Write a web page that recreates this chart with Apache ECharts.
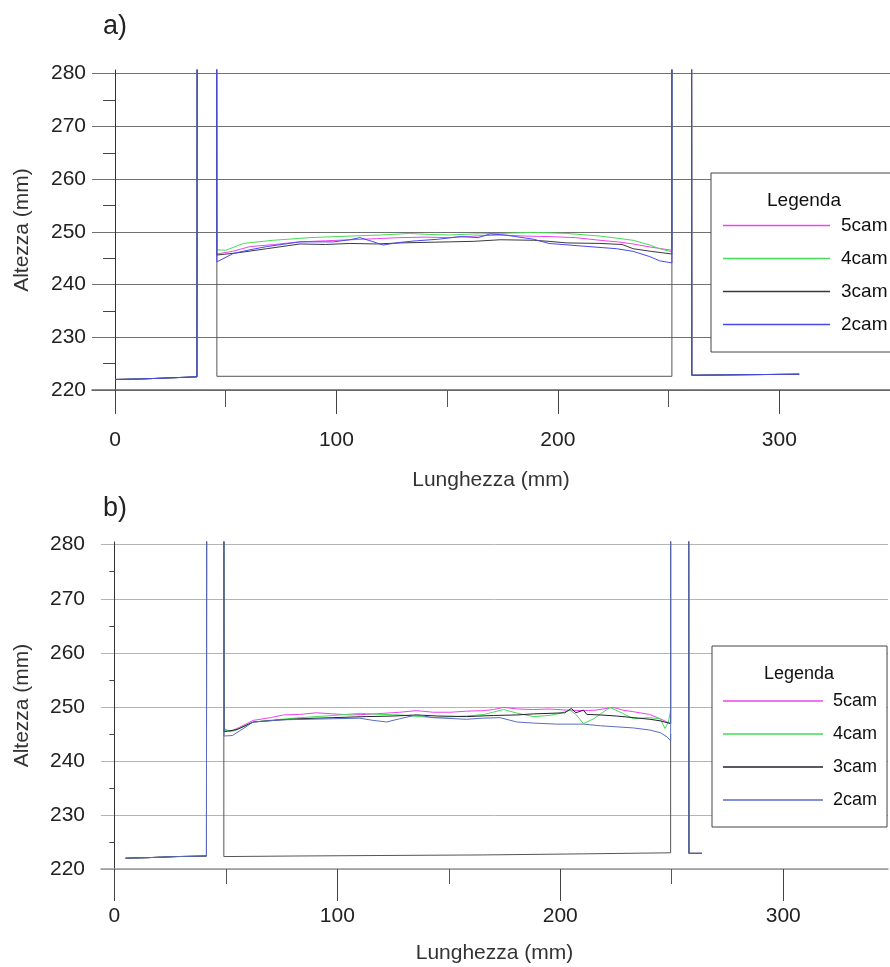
<!DOCTYPE html>
<html>
<head>
<meta charset="utf-8">
<script src="https://cdn.jsdelivr.net/npm/echarts@6/dist/echarts.min.js"></script>
<style>
  html, body { margin: 0; padding: 0; background: #ffffff; }
  #chart { width: 890px; height: 967px; }
</style>
</head>
<body>
<div id="chart"></div>
<script>
// Profile heights (mm) along the piece length (mm), two acquisitions a) and b)
const seriesNames = ['5cam', '4cam', '3cam', '2cam'];
const xTickValues = [0, 100, 200, 300];
const xMinorTickValues = [50, 150, 250];
const SPIKE_TOP = 300; // edge spikes leave the plotted range

// ---- panel a) ----
const leftA = [[0, 222.0], [12, 222.1], [25, 222.3], [37, 222.5], [37.1, SPIKE_TOP], [45.9, SPIKE_TOP]];
const rightA = [[251.5, SPIKE_TOP], [260.4, SPIKE_TOP], [260.5, 222.8], [285, 222.9], [309, 223.0]];
const baseA = [[46, 246], [46, 222.6], [251.5, 222.6], [251.5, 246]];

const cam5A = [[46, 245.8], [53, 246.3], [61, 247.2], [72, 247.6], [83.5, 248.1], [95, 248.3], [106, 248.5],
  [118, 248.7], [128.7, 248.9], [140, 249.0], [151, 248.9], [162, 249.2], [174, 249.4], [185, 249.2],
  [196, 249.1], [208, 248.9], [219, 248.4], [227, 248.1], [234, 247.7], [242, 247.1], [251.5, 246.5]];
const cam4A = [[46, 246.6], [50, 246.5], [58, 247.8], [71.5, 248.4], [88, 248.9], [106, 249.2], [120, 249.4],
  [133, 249.7], [142, 249.5], [151, 249.4], [162, 249.6], [174, 249.7], [189, 249.9], [204, 249.7],
  [219, 249.2], [234, 248.4], [241.5, 247.5], [246, 246.8], [251.5, 246.2]];
const cam3A = [[46, 245.6], [55, 246.0], [68.5, 246.8], [83.5, 247.7], [95, 247.6], [106, 247.8], [118, 247.7],
  [129, 247.9], [140, 248.0], [151, 248.1], [162, 248.2], [174, 248.5], [189, 248.4], [196, 248.2],
  [204, 247.9], [219, 247.8], [229, 247.6], [234, 246.8], [242, 246.3], [251.5, 245.8]];
const cam2A = [[46, 244.3], [53.4, 245.9], [61, 246.6], [68.5, 247.2], [83.5, 248.1], [98.6, 248.1], [106, 248.5],
  [110.6, 248.9], [116, 248.2], [121, 247.5], [128.7, 248.0], [136, 248.3], [146, 248.6], [156, 249.1],
  [164, 248.9], [169.3, 249.6], [176, 249.4], [181, 249.1], [189, 248.6], [196, 247.8], [211, 247.3],
  [226.5, 246.8], [234, 246.3], [241.5, 245.3], [246, 244.5], [251.5, 244.1]];

// ---- panel b) ----
const leftB = [[5, 222.0], [15, 222.1], [28, 222.3], [41.3, 222.4], [41.4, SPIKE_TOP], [49.1, SPIKE_TOP]];
const rightB = [[249.5, SPIKE_TOP], [257.6, SPIKE_TOP], [257.7, 222.9], [263.5, 222.9]];
const baseB = [[49.1, 246], [49.1, 222.3], [80, 222.4], [120, 222.5], [165, 222.6], [210, 222.8], [249.5, 223.0], [249.5, 245]];

const cam5B = [[49.2, 246.0], [51.9, 245.4], [56, 246.2], [62.3, 247.5], [70, 248.0], [75.8, 248.5], [83, 248.6],
  [90.7, 248.9], [98, 248.7], [105.7, 248.5], [113, 248.6], [120.6, 248.8], [128, 249.0], [135.6, 249.3],
  [143, 249.0], [150.6, 249.0], [158, 249.2], [165.5, 249.3], [170, 249.5], [174.5, 249.9], [181, 249.6],
  [188, 249.5], [195, 249.6], [203, 249.4], [210, 249.3], [216, 249.4], [223.8, 249.9], [228, 249.4],
  [232.8, 249.1], [240, 248.6], [244.8, 247.8], [249.5, 246.9]];
const cam4B = [[49.2, 245.7], [53.4, 245.5], [62.3, 247.2], [72, 247.6], [83.3, 248.0], [98, 248.4], [110.2, 248.8],
  [120, 248.6], [128, 248.5], [143.1, 248.0], [158, 248.3], [166, 248.6], [174.5, 249.5], [181, 248.8],
  [188, 248.2], [195, 248.4], [200, 248.8], [204.4, 249.4], [207, 248.6], [210.4, 246.9], [215, 247.8],
  [222.3, 249.9], [228, 248.8], [232.8, 247.8], [240, 248.0], [244.8, 247.8], [247, 246.0], [248.5, 247.2],
  [249.5, 249.4]];
const cam3B = [[49.2, 245.4], [55, 245.8], [62.3, 247.2], [75, 247.6], [83.3, 247.8], [98, 248.0], [113.2, 248.2],
  [125, 248.3], [135.6, 248.5], [145, 248.3], [158, 248.2], [170, 248.4], [180.5, 248.5], [188, 248.7],
  [195.4, 248.8], [202, 248.9], [205, 249.7], [207, 248.9], [210.4, 249.4], [211.9, 248.6], [218, 248.5],
  [225.3, 248.3], [233, 248.0], [240.3, 247.7], [245, 247.4], [249.5, 246.9]];
const cam2B = [[49.2, 244.6], [53, 244.7], [62.3, 247.2], [75, 247.6], [98.2, 247.8], [110, 247.9], [116, 247.5],
  [122.1, 247.2], [128, 247.8], [135.6, 248.5], [143, 248.0], [158, 247.7], [165, 247.9], [173, 248.0],
  [180.5, 247.2], [188, 247.0], [198.4, 246.8], [210.4, 246.8], [218, 246.5], [225.3, 246.3], [232.8, 246.1],
  [240.3, 245.7], [245, 245.2], [248, 244.4], [249.5, 243.7]];

const profilesA = [cam5A, cam4A, cam3A, cam2A];
const profilesB = [cam5B, cam4B, cam3B, cam2B];
const colorsA = ['#ee44ee', '#44dd55', '#3a3a3a', '#4848ee'];
const colorsB = ['#ee44ee', '#44dd55', '#20222e', '#5a6cc0'];

const FONT = '"Liberation Sans", Arial, sans-serif';

function yAxisFor(gridIndex, max, gridColor, minorLen, labelMargin, nameGap) {
  return {
    gridIndex: gridIndex, type: 'value', min: 220, max: max, interval: 10,
    axisLine: { show: true, onZero: true, lineStyle: { color: '#333', width: 1 } },
    axisTick: { show: false },
    minorTick: { show: true, splitNumber: 2, length: minorLen, lineStyle: { color: '#444', width: 1 } },
    minorSplitLine: { show: false },
    axisLabel: { margin: labelMargin, fontSize: 21, color: '#222', fontFamily: FONT, showMaxLabel: false },
    splitLine: { show: true, showMaxLine: false, lineStyle: { color: gridColor, width: 1 } },
    name: 'Altezza (mm)', nameLocation: 'middle', nameRotate: 90, nameGap: nameGap,
    nameMoveOverlap: false,
    nameTextStyle: { fontSize: 21, color: '#333', fontFamily: FONT }
  };
}

function xAxesFor(gridIndex, min, max, lineColor, majorLen, minorLen, labelMargin, nameGap) {
  return [
    {
      gridIndex: gridIndex, type: 'value', min: min, max: max, position: 'bottom',
      axisLine: { show: true, onZero: false, lineStyle: { color: lineColor, width: 1.5 } },
      axisTick: { show: true, customValues: xTickValues, length: majorLen, lineStyle: { color: '#444' } },
      axisLabel: { customValues: xTickValues, margin: labelMargin, fontSize: 21, color: '#222', fontFamily: FONT },
      splitLine: { show: false },
      name: 'Lunghezza (mm)', nameLocation: 'middle', nameGap: nameGap, nameMoveOverlap: false,
      nameTextStyle: { fontSize: 21, color: '#333', fontFamily: FONT }
    },
    {
      gridIndex: gridIndex, type: 'value', min: min, max: max, position: 'bottom',
      axisLine: { show: false, onZero: false },
      axisTick: { show: true, customValues: xMinorTickValues, length: minorLen, lineStyle: { color: '#555' } },
      axisLabel: { show: false },
      splitLine: { show: false }
    }
  ];
}

function panelSeries(profiles, colors, left, right, base, xIdx, yIdx, baseColor) {
  const list = [{
    name: 'sagoma', type: 'line', xAxisIndex: xIdx, yAxisIndex: yIdx,
    data: base, symbol: 'none', showSymbol: false, clip: true, silent: true,
    lineStyle: { color: baseColor, width: 1 }, z: 2
  }];
  seriesNames.forEach(function (name, i) {
    list.push({
      name: name, type: 'line', xAxisIndex: xIdx, yAxisIndex: yIdx,
      data: left.concat(profiles[i], right),
      symbol: 'none', showSymbol: false, clip: true,
      itemStyle: { color: colors[i] },
      lineStyle: { color: colors[i], width: 1 }, z: 3 + i
    });
  });
  return list;
}

function legendFor(left, top, padding, itemWidth, itemGap, fontSize, textPad, colors) {
  return {
    show: true, orient: 'vertical', left: left, top: top, padding: padding,
    icon: 'rect', itemWidth: itemWidth, itemHeight: 1.4, itemGap: itemGap,
    backgroundColor: '#ffffff', borderColor: '#444', borderWidth: 1, borderRadius: 0,
    selectedMode: false,
    textStyle: { fontSize: fontSize, color: '#111', fontFamily: FONT, padding: [0, 0, 0, textPad] },
    data: seriesNames.map(function (n, i) {
      return { name: n, icon: 'rect', itemStyle: { color: colors[i], borderWidth: 0 } };
    })
  };
}

const chart = echarts.init(document.getElementById('chart'), null, { renderer: 'canvas' });

chart.setOption({
  backgroundColor: '#ffffff',
  animation: false,
  grid: [
    { left: 92, top: 70, width: 798, height: 320, containLabel: false, outerBoundsMode: 'none' },
    { left: 101, top: 542, width: 787, height: 327, containLabel: false, outerBoundsMode: 'none' }
  ],
  xAxis: xAxesFor(0, -10.4, 350, '#666', 24, 17, 40, 80)
    .concat(xAxesFor(1, -6, 347, '#999', 32, 15, 37, 74)),
  yAxis: [
    yAxisFor(0, 280.7, '#707070', 12, 6, 59),
    yAxisFor(1, 280.5, '#b4b4b4', 5, 16, 68)
  ],
  legend: [
    legendFor(711, 173, [43, 12, 18, 12], 107, 14, 19, 6, colorsA),
    legendFor(712, 646, [46, 10, 18, 11], 100, 15, 18, 5, colorsB)
  ],
  series: panelSeries(profilesA, colorsA, leftA, rightA, baseA, 0, 0, '#555')
    .concat(panelSeries(profilesB, colorsB, leftB, rightB, baseB, 2, 1, '#555')),
  graphic: [
    { type: 'text', x: 115, y: 27, z: 20,
      style: { text: 'a)', font: '27px ' + FONT, fill: '#222', align: 'center', verticalAlign: 'middle',
               textAlign: 'center', textVerticalAlign: 'middle' } },
    { type: 'text', x: 115, y: 509, z: 20,
      style: { text: 'b)', font: '27px ' + FONT, fill: '#222', align: 'center', verticalAlign: 'middle',
               textAlign: 'center', textVerticalAlign: 'middle' } },
    { type: 'text', x: 804, y: 201, z: 20,
      style: { text: 'Legenda', font: '19px ' + FONT, fill: '#111', align: 'center', verticalAlign: 'middle',
               textAlign: 'center', textVerticalAlign: 'middle' } },
    { type: 'text', x: 799, y: 674, z: 20,
      style: { text: 'Legenda', font: '18px ' + FONT, fill: '#111', align: 'center', verticalAlign: 'middle',
               textAlign: 'center', textVerticalAlign: 'middle' } }
  ]
});
</script>
</body>
</html>
